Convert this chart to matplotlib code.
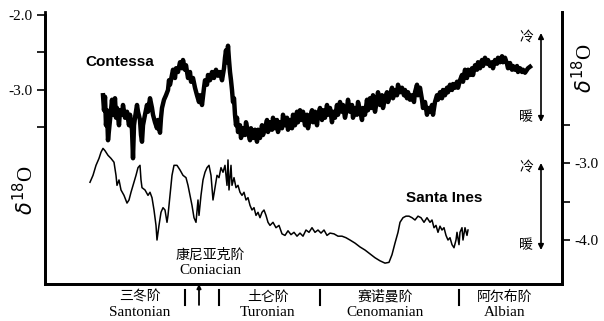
import matplotlib
matplotlib.use("Agg")
import matplotlib.pyplot as plt
import numpy as np

# Contessa (left axis, delta18O)
contessa_x = [103, 104, 105, 106, 107, 108, 110, 112, 113, 115, 116, 117, 119, 120, 122, 123, 125, 127, 129, 130,
              132, 133, 134, 135, 137, 138, 140, 141, 142, 143, 145, 147, 148, 150, 152, 153, 155, 157, 158, 160,
              161, 162, 164, 166, 168, 169, 170, 172, 173, 175, 176, 178, 180, 182, 183, 185, 186, 188, 190, 191,
              193, 195, 197, 199, 200, 202, 204, 205, 207, 208, 210, 212, 214, 216, 218, 220, 222, 224, 225, 226,
              227, 228, 229, 230, 231, 232, 233, 234, 235, 236, 237, 238, 240, 241, 243, 245, 246, 248, 250, 251,
              253, 255, 257, 258, 260, 262, 263, 265, 267, 268, 270, 272, 273, 275, 277, 278, 280, 282, 283, 285,
              287, 288, 290, 292, 293, 295, 297, 298, 300, 302, 303, 305, 307, 308, 310, 312, 313, 315, 317, 318,
              320, 322, 323, 325, 327, 328, 330, 332, 333, 335, 337, 338, 340, 342, 343, 345, 347, 348, 350, 352,
              353, 355, 357, 358, 360, 362, 363, 365, 367, 368, 370, 372, 373, 375, 377, 378, 380, 382, 383, 385,
              387, 388, 390, 392, 393, 395, 397, 398, 400, 402, 404, 405, 407, 408, 410, 412, 414, 415, 417, 418,
              420, 422, 423, 425, 427, 428, 430, 432, 433, 435, 437, 438, 440, 442, 443, 445, 447, 448, 450, 452,
              453, 455, 457, 458, 460, 462, 463, 465, 467, 468, 470, 472, 473, 475, 477, 478, 480, 482, 483, 485,
              487, 488, 490, 492, 493, 495, 497, 498, 500, 502, 503, 505, 507, 508, 510, 512, 513, 515, 517, 518,
              520, 522, 523, 525, 527, 528, 530]
contessa_d18o = [-3.07, -3.27, -3.09, -3.47, -3.27, -3.67, -3.40, -3.13, -3.33, -3.11, -3.37, -3.24, -3.47, -3.27, -3.33, -3.20, -3.37, -3.29, -3.47, -3.33,
                 -3.53, -3.91, -3.47, -3.37, -3.20, -3.29, -3.40, -3.60, -3.69, -3.47, -3.33, -3.20, -3.29, -3.11, -3.24, -3.33, -3.43, -3.51, -3.40, -3.57,
                 -3.37, -3.24, -3.13, -3.07, -3.00, -2.87, -2.93, -2.80, -2.73, -2.84, -2.71, -2.76, -2.63, -2.71, -2.60, -2.73, -2.67, -2.84, -2.76, -2.89,
                 -2.84, -2.97, -3.07, -3.16, -3.07, -3.20, -2.97, -2.87, -2.93, -2.80, -2.87, -2.76, -2.84, -2.73, -2.81, -2.76, -2.87, -2.71, -2.57, -2.47,
                 -2.63, -2.41, -2.60, -2.76, -2.87, -3.00, -3.16, -3.11, -3.33, -3.47, -3.37, -3.56, -3.47, -3.64, -3.51, -3.60, -3.43, -3.56, -3.67, -3.51,
                 -3.64, -3.53, -3.69, -3.53, -3.64, -3.47, -3.60, -3.51, -3.40, -3.56, -3.43, -3.53, -3.37, -3.51, -3.40, -3.56, -3.43, -3.51, -3.33, -3.47,
                 -3.37, -3.53, -3.40, -3.51, -3.33, -3.47, -3.29, -3.43, -3.27, -3.40, -3.29, -3.47, -3.33, -3.51, -3.37, -3.27, -3.43, -3.29, -3.47, -3.33,
                 -3.24, -3.40, -3.27, -3.37, -3.20, -3.33, -3.24, -3.43, -3.29, -3.37, -3.20, -3.33, -3.16, -3.29, -3.20, -3.37, -3.24, -3.13, -3.29, -3.20,
                 -3.37, -3.24, -3.33, -3.16, -3.27, -3.40, -3.24, -3.33, -3.13, -3.27, -3.11, -3.24, -3.07, -3.29, -3.13, -3.03, -3.20, -3.07, -3.24, -3.11,
                 -3.03, -3.16, -3.07, -2.97, -3.11, -3.00, -3.07, -2.93, -3.03, -2.97, -3.07, -3.00, -3.11, -3.03, -3.13, -3.07, -3.16, -3.03, -2.93, -3.07,
                 -2.97, -3.13, -3.24, -3.16, -3.33, -3.24, -3.29, -3.20, -3.33, -3.16, -3.07, -3.13, -3.03, -3.11, -3.00, -3.07, -2.97, -3.03, -2.93, -3.00,
                 -2.92, -2.97, -2.89, -2.97, -2.87, -2.80, -2.89, -2.73, -2.84, -2.73, -2.80, -2.71, -2.80, -2.67, -2.73, -2.63, -2.71, -2.60, -2.68, -2.57,
                 -2.65, -2.60, -2.68, -2.63, -2.71, -2.60, -2.65, -2.57, -2.63, -2.55, -2.63, -2.57, -2.65, -2.71, -2.64, -2.73, -2.68, -2.73, -2.68, -2.76,
                 -2.71, -2.76, -2.73, -2.77, -2.73, -2.71, -2.69]

# Santa Ines (right axis, delta18O)
santa_x = [90, 93, 96, 99, 101, 103, 105, 108, 111, 114, 116, 117, 119, 121, 124, 127, 129, 131, 134, 136,
           138, 140, 141, 142, 145, 148, 150, 152, 154, 156, 157, 159, 161, 163, 165, 167, 168, 170, 172, 174,
           177, 180, 183, 186, 188, 190, 192, 194, 196, 198, 199, 201, 203, 205, 207, 209, 211, 213, 215, 217,
           219, 221, 223, 225, 227, 228, 229, 231, 232, 234, 236, 238, 240, 242, 244, 246, 248, 250, 252, 254,
           256, 258, 260, 262, 264, 266, 268, 270, 273, 276, 279, 282, 285, 288, 291, 294, 297, 300, 303, 306,
           309, 312, 315, 318, 321, 324, 327, 330, 334, 338, 342, 346, 350, 355, 360, 365, 370, 375, 380, 385,
           389, 392, 395, 398, 400, 403, 406, 409, 412, 415, 418, 421, 424, 427, 430, 432, 434, 436, 438, 440,
           442, 444, 446, 448, 450, 452, 454, 456, 457, 459, 460, 462, 463, 465, 467, 468]
santa_d18o = [-3.25, -3.16, -3.03, -2.94, -2.86, -2.81, -2.84, -2.90, -2.94, -2.99, -3.16, -3.29, -3.22, -3.35, -3.42, -3.52, -3.48, -3.38, -3.25, -3.16,
              -3.06, -3.03, -3.22, -3.32, -3.35, -3.42, -3.38, -3.45, -3.61, -3.81, -4.00, -3.81, -3.64, -3.58, -3.61, -3.77, -3.68, -3.42, -3.16, -3.03,
              -3.03, -3.09, -3.16, -3.19, -3.29, -3.42, -3.55, -3.71, -3.77, -3.48, -3.68, -3.42, -3.22, -3.12, -3.06, -3.03, -3.16, -3.48, -3.32, -3.16,
              -3.19, -3.06, -3.12, -3.03, -3.29, -2.96, -3.35, -3.03, -3.29, -3.19, -3.32, -3.29, -3.38, -3.42, -3.38, -3.48, -3.45, -3.55, -3.61, -3.58,
              -3.68, -3.64, -3.71, -3.64, -3.61, -3.68, -3.77, -3.81, -3.77, -3.84, -3.81, -3.92, -3.94, -3.88, -3.93, -3.90, -3.95, -3.91, -3.95, -3.87,
              -3.90, -3.84, -3.90, -3.87, -3.91, -3.87, -3.94, -3.91, -3.92, -3.95, -3.95, -3.97, -4.00, -4.04, -4.09, -4.13, -4.18, -4.23, -4.27, -4.30,
              -4.29, -4.19, -4.04, -3.90, -3.77, -3.71, -3.69, -3.69, -3.71, -3.74, -3.69, -3.71, -3.77, -3.71, -3.77, -3.74, -3.84, -3.81, -3.90, -3.82,
              -3.87, -3.84, -3.94, -4.00, -3.97, -4.06, -4.10, -4.00, -3.90, -4.06, -3.90, -3.84, -4.00, -3.84, -3.94, -3.87]

# Stage labels below the axis (Chinese, English, centre position)
stage_cn = ["三冬阶", "土仑阶", "赛诺曼阶", "阿尔布阶"]
stage_en = ["Santonian", "Turonian", "Cenomanian", "Albian"]
stage_x = [140, 268, 385, 505]
boundaries = [185, 219, 320, 459]
coniacian_x = 199

W, H = 604, 321
fig = plt.figure(figsize=(W / 100, H / 100), dpi=100)
ax = fig.add_axes([45 / W, 1 - 284 / H, (562 - 45) / W, (284 - 12) / H])
ax2 = ax.twinx()

cjk = ["Noto Sans CJK SC", "DejaVu Sans"]
serif = "Liberation Serif"

ax.plot(contessa_x, contessa_d18o, color="black", lw=3.2, solid_joinstyle="round")
ax2.plot(santa_x, santa_d18o, color="black", lw=1.1)

ax.set_xlim(45, 562)
ax.set_ylim(-5.587, -1.96)
ax2.set_ylim(-4.571, -1.039)

ax.set_xticks([])
ax.set_yticks([-2.0, -3.0])
ax.set_yticklabels(["-2.0", "-3.0"], fontfamily=serif, fontsize=11)
ax.set_yticks([-2.5, -3.5], minor=True)
ax2.set_yticks([-3.0, -4.0])
ax2.set_yticklabels(["-3.0", "-4.0"], fontfamily=serif, fontsize=11)
ax2.set_yticks([-2.5, -3.5], minor=True)
for a in (ax, ax2):
    a.tick_params(which="major", length=6, width=1.2, direction="out", pad=3)
    a.tick_params(which="minor", length=6, width=1.2, direction="out")
    a.spines["top"].set_visible(False)
    for s in a.spines.values():
        s.set_linewidth(2)

# spine lengths
ax.spines["left"].set_bounds(-5.587, -2.0)

# curve names
fig.text(120 / W, 1 - 62 / H, "Contessa", fontfamily="Liberation Sans", fontweight="bold",
         fontsize=11, ha="center", va="center")
fig.text(444 / W, 1 - 198 / H, "Santa Ines", fontfamily="Liberation Sans", fontweight="bold",
         fontsize=11, ha="center", va="center")

# delta18O axis titles
fig.text(26 / W, 1 - 190 / H, r"$\delta^{18}$O", fontfamily=serif, fontsize=15,
         rotation=90, ha="center", va="center")
fig.text(585 / W, 1 - 68 / H, r"$\delta^{18}$O", fontfamily=serif, fontsize=15,
         rotation=90, ha="center", va="center")

# cold / warm arrows
for top, bot in [(33, 122), (163, 250)]:
    ax.annotate("", xy=(541 / W, 1 - top / H), xytext=(541 / W, 1 - bot / H),
                xycoords="figure fraction", textcoords="figure fraction",
                arrowprops=dict(arrowstyle="<|-|>", color="black", lw=1.2,
                                mutation_scale=8, shrinkA=0, shrinkB=0))
    fig.text(526 / W, 1 - (top + 4) / H, "冷", fontfamily=cjk, fontsize=10,
             ha="center", va="center")
    fig.text(526 / W, 1 - (bot - 5) / H, "暖", fontfamily=cjk, fontsize=10,
             ha="center", va="center")

# stage boundaries below the axis
trans = ax.get_xaxis_transform()
for bx in boundaries:
    ax.plot([bx, bx], [-0.022, -0.077], color="black", lw=1.5, transform=trans, clip_on=False)
ax.annotate("", xy=(coniacian_x, 0), xytext=(coniacian_x, -0.077),
            xycoords=trans, textcoords=trans,
            arrowprops=dict(arrowstyle="-|>", color="black", lw=1.3,
                            mutation_scale=6, shrinkA=0, shrinkB=0))

for cn, en, sx in zip(stage_cn, stage_en, stage_x):
    fig.text(sx / W, 1 - 297 / H, cn, fontfamily=cjk, fontsize=10, ha="center", va="center")
    fig.text(sx / W, 1 - 313 / H, en, fontfamily=serif, fontsize=11, ha="center", va="center")

fig.text(210 / W, 1 - 254 / H, "康尼亚克阶", fontfamily=cjk, fontsize=10, ha="center", va="center")
fig.text(210 / W, 1 - 270 / H, "Coniacian", fontfamily=serif, fontsize=11, ha="center", va="center")

fig.savefig("out.png", dpi=100)
